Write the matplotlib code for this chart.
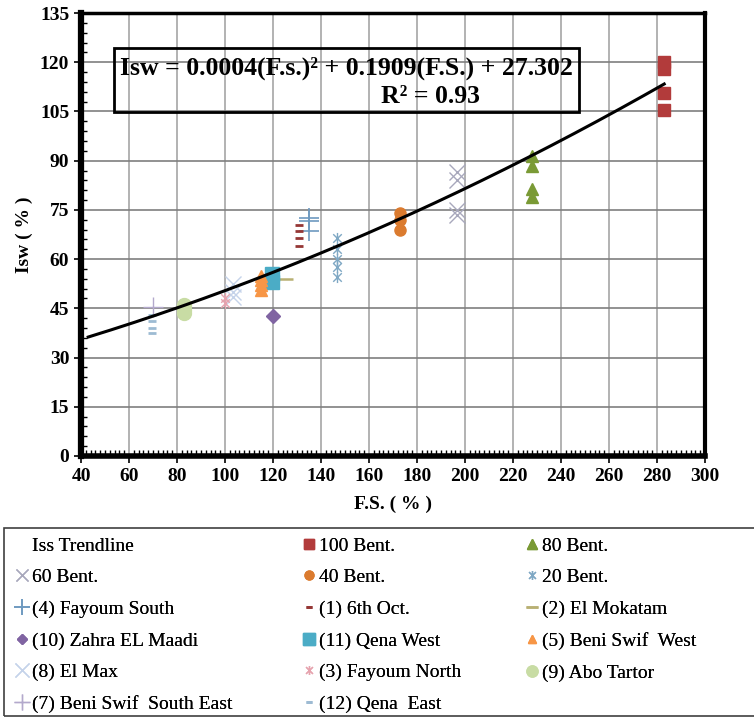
import matplotlib
matplotlib.use('Agg')
import matplotlib.pyplot as plt
from matplotlib.path import Path
from matplotlib.lines import Line2D
from matplotlib.patches import Rectangle
from matplotlib.ticker import MultipleLocator
import numpy as np

plt.rcParams['font.family'] = ['Liberation Serif', 'DejaVu Serif']

# ---- data ----
series_names = ['100 Bent.', '80 Bent.', '60 Bent.', '40 Bent.', '20 Bent.',
                '(4) Fayoum South', '(1) 6th Oct.', '(2) El Mokatam',
                '(10) Zahra EL Maadi', '(11) Qena West', '(5) Beni Swif  West',
                '(8) El Max', '(3) Fayoum North', '(9) Abo Tartor',
                '(7) Beni Swif  South East', '(12) Qena  East']
fs_values = [283, 228, 196.5, 173, 146.5,
             135, 131, 125,
             120, 119.5, 115,
             103.5, 100, 83,
             70, 69.5]
isw_values = [[120, 118, 110.5, 105.5],
              [91.5, 88.5, 81.5, 79],
              [86.5, 84, 75, 73.5],
              [74, 72, 69],
              [66.5, 63, 60, 57.5, 54.5],
              [72.5, 71.5, 68.5],
              [70.5, 68.5, 66.5, 64],
              [54],
              [42.8],
              [55.5, 53],
              [55, 53.5, 52, 50.5],
              [52.5, 50, 48.5],
              [48, 46.5],
              [46, 44.5, 43.5],
              [45.5],
              [43, 41, 39, 37.5]]

# trendline  Isw = a*FS^2 + b*FS + c
trend_coefs = [0.0004, 0.1909, 27.302]
trend_range = [43, 283]

# excel style "star" marker: x with a vertical bar
star = Path([(-1, -1), (1, 1), (-1, 1), (1, -1), (0, -1.3), (0, 1.3)],
            [Path.MOVETO, Path.LINETO, Path.MOVETO, Path.LINETO, Path.MOVETO, Path.LINETO])

styles = [
    dict(marker='s', color='#B23B3B', ms=9),
    dict(marker='^', color='#7A9A35', ms=9),
    dict(marker='x', color='#A8A8BC', ms=11, mew=1),
    dict(marker='o', color='#DB7B2F', ms=8),
    dict(marker=star, color='#7FA8C4', ms=8, mew=1, fillstyle='none'),
    dict(marker='+', color='#6E9AC0', ms=14, mew=1.2),
    dict(marker='_', color='#953735', ms=6, mew=2),
    dict(marker='_', color='#B8B073', ms=11, mew=1.8),
    dict(marker='D', color='#8064A2', ms=7),
    dict(marker='s', color='#4BACC6', ms=10),
    dict(marker='^', color='#F79646', ms=8),
    dict(marker='x', color='#C5D3EA', ms=12, mew=1),
    dict(marker=star, color='#E6A3AE', ms=8, mew=1, fillstyle='none'),
    dict(marker='o', color='#C8DCA4', ms=10),
    dict(marker='+', color='#B3A9CC', ms=14, mew=1),
    dict(marker='_', color='#9DBBD3', ms=6, mew=2),
]

fig = plt.figure(figsize=(7.54, 7.17), dpi=100)
ax = fig.add_axes([81/754, 1 - 456/717, (705 - 81)/754, (456 - 13)/717])

ax.set_xlim(40, 300)
ax.set_ylim(0, 135)
ax.xaxis.set_major_locator(MultipleLocator(20))
ax.xaxis.set_minor_locator(MultipleLocator(2))
ax.yaxis.set_major_locator(MultipleLocator(15))
ax.yaxis.set_minor_locator(MultipleLocator(3))
ax.grid(True, which='major', axis='x', color='#A6A6A6', lw=1.2)
ax.grid(True, which='major', axis='y', color='#7F7F7F', lw=1.2)
ax.set_axisbelow(True)
ax.tick_params(which='major', direction='out', length=5, width=1.2, labelsize=14)
ax.tick_params(which='minor', direction='in', length=4, width=1)
for lab in ax.get_xticklabels() + ax.get_yticklabels():
    lab.set_fontweight('bold')
for side, w in [('left', 4.5), ('bottom', 4), ('top', 2.5), ('right', 3)]:
    ax.spines[side].set_linewidth(w)

ax.set_xlabel('F.S. ( % )', fontsize=14, fontweight='bold', labelpad=8)
ax.set_ylabel('Isw ( % )', fontsize=14, fontweight='bold', labelpad=5)

handles = []
for name, fs, ys, st in zip(series_names, fs_values, isw_values, styles):
    st = dict(st)
    ms = st.pop('ms')
    h, = ax.plot([fs] * len(ys), ys, linestyle='none', markersize=ms,
                 markeredgecolor=st['color'], label=name, **st)
    handles.append(h)

xt = np.linspace(trend_range[0], trend_range[1], 200)
yt = np.polyval(trend_coefs, xt)
trend, = ax.plot(xt, yt, color='black', lw=2.2, label='Iss Trendline')

# equation box
ax.add_patch(Rectangle((53.8, 104.9), 193.7, 19.5, fill=False, ec='black', lw=2, zorder=5))
ax.text(150.5, 118.3, 'Isw = 0.0004(F.s.)² + 0.1909(F.S.) + 27.302', ha='center', va='center',
        fontsize=18.5, fontweight='bold', zorder=6)
ax.text(185.5, 109.6, 'R² = 0.93', ha='center', va='center',
        fontsize=18.5, fontweight='bold', zorder=6)

# legend box
fig.add_artist(Rectangle((4/754, 0.002), 1.0, (717 - 529)/717, transform=fig.transFigure,
                         fill=False, ec='#404040', lw=1.2))

blank = Line2D([], [], linestyle='none', marker='none')
col_entries = [
    [(blank, 'Iss Trendline')] + [(handles[i], series_names[i]) for i in (2, 5, 8, 11, 14)],
    [(handles[i], series_names[i]) for i in (0, 3, 6, 9, 12, 15)],
    [(handles[i], series_names[i]) for i in (1, 4, 7, 10, 13)],
]
col_x = [15, 302, 525]
for cx, entries in zip(col_x, col_entries):
    leg = fig.legend([e[0] for e in entries], [e[1] for e in entries],
                     loc='upper left', bbox_to_anchor=(cx/754, 1 - 537/717),
                     frameon=False, fontsize=14, handlelength=0.7, handletextpad=0.15,
                     labelspacing=0.72, borderpad=0, borderaxespad=0, markerscale=0.8)
    fig.add_artist(leg)

fig.savefig('out.png', dpi=100)
